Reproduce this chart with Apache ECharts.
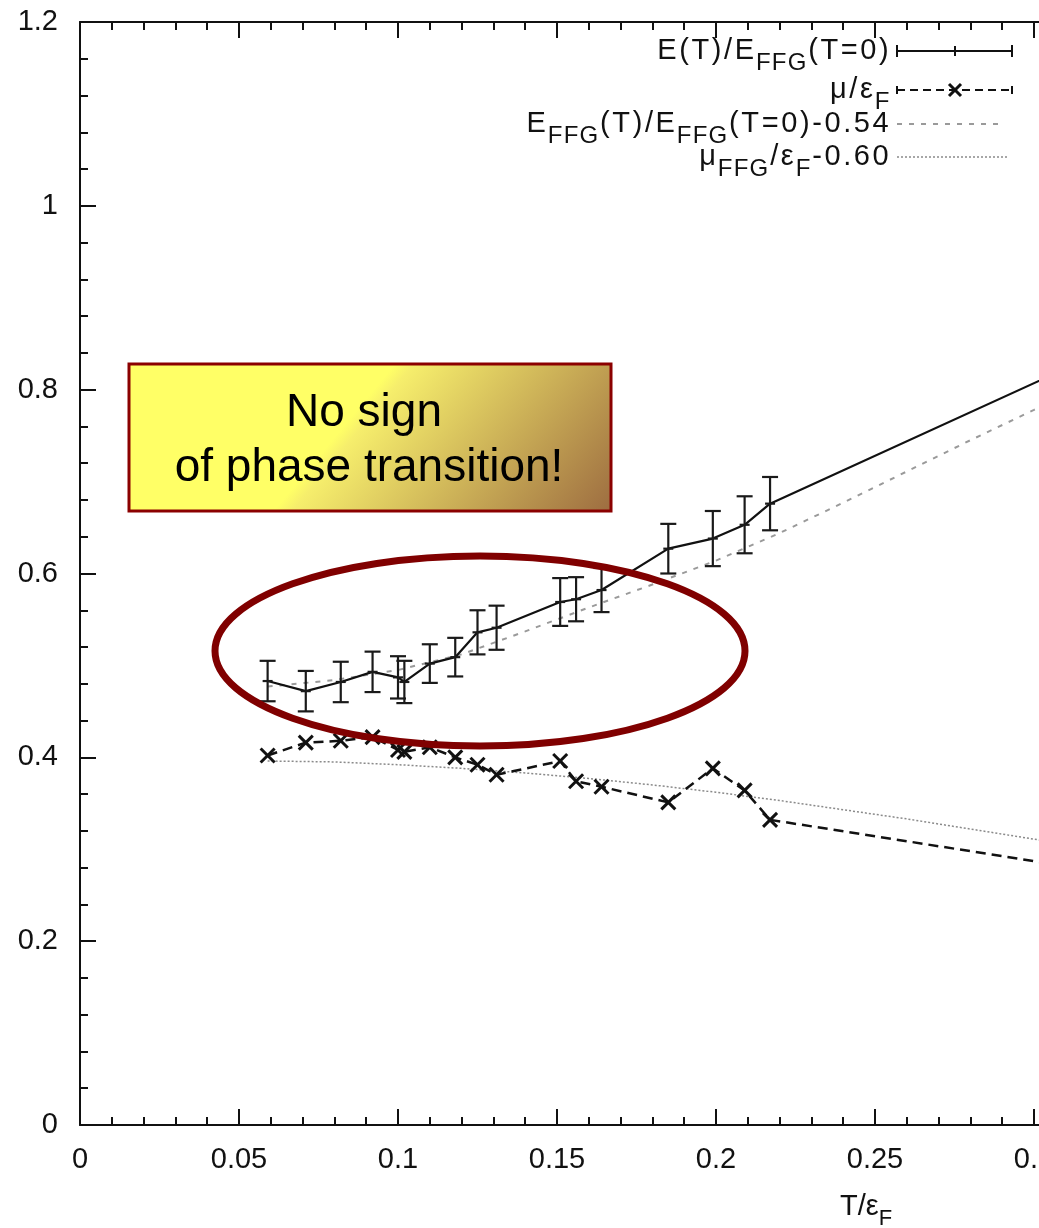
<!DOCTYPE html>
<html>
<head>
<meta charset="utf-8">
<script src="https://cdn.jsdelivr.net/npm/echarts@6/dist/echarts.min.js"></script>
<style>
  html, body { margin: 0; padding: 0; background: #ffffff; }
  #chart { width: 1039px; height: 1228px; }
</style>
</head>
<body>
<div id="chart"></div>
<script>
// Reduced temperature T/eps_F of the simulation points
const temperatures = [0.059, 0.071, 0.082, 0.092, 0.100, 0.102, 0.110, 0.118, 0.125, 0.131, 0.151, 0.156, 0.164, 0.185, 0.199, 0.209, 0.217, 0.350];
// E(T)/E_FFG(T=0) with statistical errors
const energyRatio = [0.483, 0.472, 0.482, 0.493, 0.487, 0.482, 0.502, 0.509, 0.536, 0.541, 0.569, 0.572, 0.582, 0.627, 0.638, 0.653, 0.676, 0.886];
const energyError = [0.022, 0.022, 0.022, 0.022, 0.023, 0.023, 0.021, 0.021, 0.024, 0.024, 0.026, 0.024, 0.024, 0.027, 0.030, 0.031, 0.029, 0.030];
// chemical potential mu/eps_F
const chemPotential = [0.402, 0.416, 0.418, 0.422, 0.408, 0.406, 0.411, 0.400, 0.392, 0.381, 0.396, 0.374, 0.368, 0.351, 0.388, 0.364, 0.332, 0.260];
// free Fermi gas reference curves (shifted)
const ffgTemperatures = [0.059, 0.08, 0.10, 0.12, 0.14, 0.16, 0.18, 0.20, 0.22, 0.24, 0.26, 0.28, 0.30, 0.35];
const ffgEnergyShifted = [0.477, 0.484, 0.495, 0.512, 0.537, 0.563, 0.588, 0.614, 0.644, 0.677, 0.711, 0.745, 0.778, 0.862];
const ffgMuShifted = [0.396, 0.395, 0.392, 0.388, 0.383, 0.377, 0.370, 0.362, 0.353, 0.343, 0.333, 0.322, 0.311, 0.282];
// tick labels
const xTickLabels = ['0', '0.05', '0.1', '0.15', '0.2', '0.25', '0.3', '0.35'];
const yTickLabels = ['0', '0.2', '0.4', '0.6', '0.8', '1', '1.2'];

const FONT = '"Liberation Sans", Arial, Helvetica, sans-serif';
const INK = '#111111';

const pairs = (xs, ys) => xs.map((x, i) => [x, ys[i]]);

function renderErrorBar(params, api) {
  const x = api.value(0), y = api.value(1), e = api.value(2);
  const c = api.coord([x, y]);
  const top = api.coord([x, y + e]);
  const bot = api.coord([x, y - e]);
  const cap = 8;
  const st = { stroke: '#1a1a1a', lineWidth: 2.2, fill: null };
  return {
    type: 'group',
    children: [
      { type: 'line', shape: { x1: top[0], y1: top[1], x2: bot[0], y2: bot[1] }, style: st },
      { type: 'line', shape: { x1: top[0] - cap, y1: top[1], x2: top[0] + cap, y2: top[1] }, style: st },
      { type: 'line', shape: { x1: bot[0] - cap, y1: bot[1], x2: bot[0] + cap, y2: bot[1] }, style: st },
      { type: 'line', shape: { x1: c[0] - 5, y1: c[1], x2: c[0] + 5, y2: c[1] }, style: st }
    ]
  };
}

function renderCross(params, api) {
  const c = api.coord([api.value(0), api.value(1)]);
  const h = 7;
  const st = { stroke: '#111111', lineWidth: 3, fill: null };
  return {
    type: 'group',
    children: [
      { type: 'line', shape: { x1: c[0] - h, y1: c[1] - h, x2: c[0] + h, y2: c[1] + h }, style: st },
      { type: 'line', shape: { x1: c[0] - h, y1: c[1] + h, x2: c[0] + h, y2: c[1] - h }, style: st }
    ]
  };
}

// main text and subscript styles; side padding gives the wide letter spacing of the key
const richParts = {
  m: { fontSize: 29, lineHeight: 30, padding: [0, 1.3, 0, 1.3], fontFamily: FONT, fill: INK, color: INK },
  s: { fontSize: 24, lineHeight: 24, padding: [24, 0.6, 0, 0.6], fontFamily: FONT, fill: INK, color: INK },
  t: { fontSize: 29, lineHeight: 30, fontFamily: FONT, fill: INK, color: INK },
  u: { fontSize: 22, lineHeight: 22, padding: [24, 0, 0, 0], fontFamily: FONT, fill: INK, color: INK }
};

// split a run of text into single-character rich tokens
function spaced(style, str) {
  return Array.from(str).map(ch => '{' + style + '|' + ch + '}').join('');
}

function richText(x, y, text, align) {
  return {
    type: 'text', z: 120,
    style: {
      x: x, y: y, text: text, rich: richParts,
      align: align, textAlign: align,
      verticalAlign: 'middle', textVerticalAlign: 'middle'
    }
  };
}

function seg(x1, y1, x2, y2, stroke, width, dash) {
  return {
    type: 'line', z: 120,
    shape: { x1: x1, y1: y1, x2: x2, y2: y2 },
    style: { stroke: stroke, lineWidth: width, lineDash: dash || null }
  };
}

// legend rows
const keyX1 = 897, keyX2 = 1012, keyMid = 955;
const rowY = [51, 90, 124, 157];
const legendElements = [
  richText(890, rowY[0], spaced('m', 'E(T)/E') + spaced('s', 'FFG') + spaced('m', '(T=0)'), 'right'),
  seg(keyX1, rowY[0], keyX2, rowY[0], INK, 2),
  seg(keyX1, rowY[0] - 6, keyX1, rowY[0] + 6, INK, 2),
  seg(keyX2, rowY[0] - 6, keyX2, rowY[0] + 6, INK, 2),
  seg(keyMid, rowY[0] - 5, keyMid, rowY[0] + 5, INK, 2),

  richText(890, rowY[1], spaced('m', 'μ/ε') + spaced('s', 'F'), 'right'),
  seg(keyX1, rowY[1], keyX2, rowY[1], INK, 2, [8, 5]),
  seg(keyX1, rowY[1] - 4, keyX1, rowY[1] + 4, INK, 2),
  seg(keyX2, rowY[1] - 4, keyX2, rowY[1] + 4, INK, 2),
  seg(keyMid - 6, rowY[1] - 6, keyMid + 6, rowY[1] + 6, INK, 3),
  seg(keyMid - 6, rowY[1] + 6, keyMid + 6, rowY[1] - 6, INK, 3),

  richText(890, rowY[2], spaced('m', 'E') + spaced('s', 'FFG') + spaced('m', '(T)/E') + spaced('s', 'FFG') + spaced('m', '(T=0)-0.54'), 'right'),
  seg(keyX1, rowY[2], 1004, rowY[2], '#9a9a9a', 2, [5, 7]),

  richText(890, rowY[3], spaced('m', 'μ') + spaced('s', 'FFG') + spaced('m', '/ε') + spaced('s', 'F') + spaced('m', '-0.60'), 'right'),
  seg(keyX1, rowY[3], 1008, rowY[3], '#8a8a8a', 1.5, [2, 2])
];

const boxFill = new echarts.graphic.LinearGradient(0, 0, 0.749, 2.0, [
  { offset: 0, color: '#ffff66' },
  { offset: 0.44, color: '#ffff66' },
  { offset: 0.47, color: '#f6ee6c' },
  { offset: 1, color: '#9c6b40' }
]);

const annotationElements = [
  {
    type: 'rect', z: 110,
    shape: { x: 129, y: 364, width: 482, height: 147 },
    style: { fill: boxFill, stroke: '#8b0000', lineWidth: 3 }
  },
  {
    type: 'text', z: 111,
    style: { x: 364, y: 413, text: 'No sign', font: '46px ' + FONT, fill: '#000',
             align: 'center', textAlign: 'center', verticalAlign: 'middle', textVerticalAlign: 'middle' }
  },
  {
    type: 'text', z: 111,
    style: { x: 369, y: 468, text: 'of phase transition!', font: '46px ' + FONT, fill: '#000',
             align: 'center', textAlign: 'center', verticalAlign: 'middle', textVerticalAlign: 'middle' }
  },
  {
    type: 'ellipse', z: 110,
    shape: { cx: 480, cy: 651, rx: 265, ry: 95 },
    style: { fill: null, stroke: '#800000', lineWidth: 7 }
  },
  richText(866, 1207, '{t|T/ε}{u|F}', 'center')
];

const tickStyle = { color: INK, width: 2 };
const commonX = {
  type: 'value', min: 0, max: 0.35, interval: 0.05,
  axisLine: { show: true, lineStyle: { color: INK, width: 2 } },
  axisTick: { show: true, inside: true, length: 16, lineStyle: tickStyle },
  minorTick: { show: true, splitNumber: 5, length: 8, lineStyle: tickStyle },
  splitLine: { show: false }
};

const chart = echarts.init(document.getElementById('chart'), null, { renderer: 'canvas' });
chart.setOption({
  backgroundColor: '#ffffff',
  animation: false,
  grid: { left: 80, right: -154, top: 22, bottom: 103, containLabel: false, outerBoundsMode: 'none' },
  xAxis: [
    Object.assign({}, commonX, {
      position: 'bottom',
      axisLabel: {
        show: true, margin: 20, color: INK, fontSize: 29, fontFamily: FONT,
        formatter: v => xTickLabels[Math.round(v / 0.05)]
      }
    }),
    Object.assign({}, commonX, { position: 'top', axisLabel: { show: false } })
  ],
  yAxis: {
    type: 'value', min: 0, max: 1.2, interval: 0.2,
    axisLine: { show: true, lineStyle: { color: INK, width: 2 } },
    axisTick: { show: true, inside: true, length: 16, lineStyle: tickStyle },
    minorTick: { show: true, splitNumber: 5, length: 8, lineStyle: tickStyle },
    splitLine: { show: false },
    axisLabel: {
      show: true, margin: 22, color: INK, fontSize: 29, fontFamily: FONT,
      formatter: v => yTickLabels[Math.round(v / 0.2)]
    }
  },
  series: [
    {
      name: 'E_FFG', type: 'line', data: pairs(ffgTemperatures, ffgEnergyShifted),
      symbol: 'none', smooth: false, z: 2,
      lineStyle: { color: '#9a9a9a', width: 2, type: [5, 7] }
    },
    {
      name: 'mu_FFG', type: 'line', data: pairs(ffgTemperatures, ffgMuShifted),
      symbol: 'none', z: 2,
      lineStyle: { color: '#8a8a8a', width: 1.5, type: [2, 2] }
    },
    {
      name: 'E', type: 'line', data: pairs(temperatures, energyRatio),
      symbol: 'none', z: 3,
      lineStyle: { color: INK, width: 2.2 }
    },
    {
      name: 'E errors', type: 'custom', renderItem: renderErrorBar, z: 4,
      encode: { x: 0, y: 1 },
      data: temperatures.map((t, i) => [t, energyRatio[i], energyError[i]])
    },
    {
      name: 'mu', type: 'line', data: pairs(temperatures, chemPotential),
      symbol: 'none', z: 3,
      lineStyle: { color: INK, width: 2.5, type: [10, 6] }
    },
    {
      name: 'mu markers', type: 'custom', renderItem: renderCross, z: 4,
      encode: { x: 0, y: 1 },
      data: pairs(temperatures, chemPotential)
    }
  ],
  graphic: { elements: legendElements.concat(annotationElements) }
});
</script>
</body>
</html>
